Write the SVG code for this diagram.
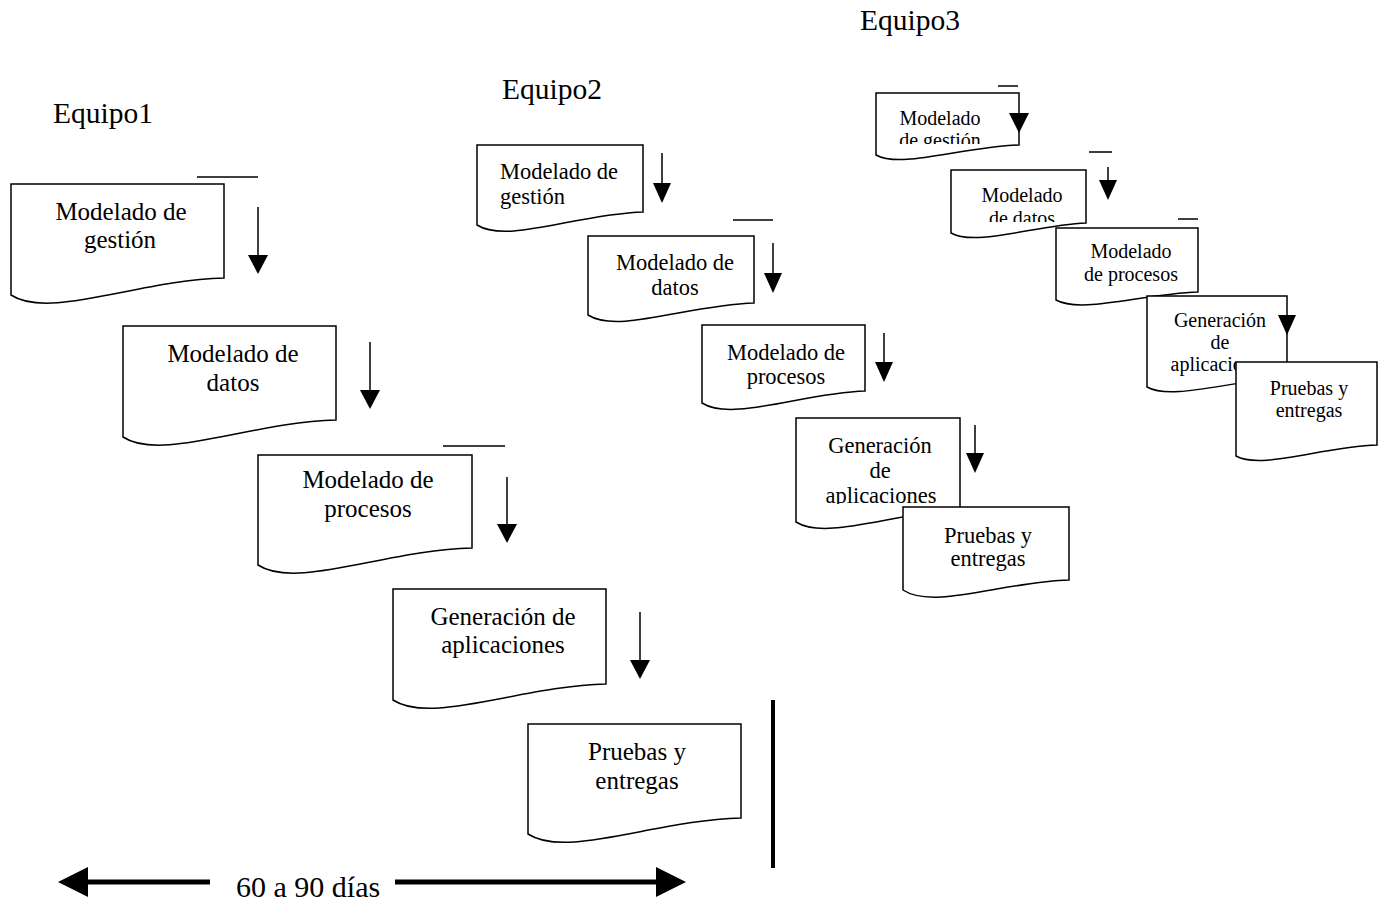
<svg xmlns="http://www.w3.org/2000/svg" width="1387" height="905" viewBox="0 0 1387 905">
<style>
.box{fill:#fff;stroke:#000;stroke-width:1.5}
text{font-family:"Liberation Serif","Times New Roman",serif;fill:#000}
.t1{font-size:25px;text-anchor:middle}
.t2{font-size:22.5px;text-anchor:middle}
.t3{font-size:20px;text-anchor:middle}
.lbl{font-size:29.5px}
.ln{stroke:#000;stroke-width:1.5;fill:none}
.hd{fill:#000}
.thick{stroke:#000;stroke-width:5;fill:none}
</style>
<defs>
<clipPath id="c_e2b4"><rect x="790" y="410" width="180" height="94"/></clipPath>
<clipPath id="c_e3b1"><rect x="870" y="90" width="150" height="54"/></clipPath>
<clipPath id="c_e3b2"><rect x="945" y="165" width="145" height="57"/></clipPath>
<clipPath id="c_e3b4"><rect x="1140" y="290" width="96" height="90"/></clipPath>
</defs>
<rect width="1387" height="905" fill="#fff"/>
<g id="labels">
<text class="lbl" x="53" y="123">Equipo1</text>
<text class="lbl" x="502" y="99">Equipo2</text>
<text class="lbl" x="860" y="30">Equipo3</text>
</g>
<g id="e1-gestion"><path class="box" d="M11,184 H224 V278 C139,280 49,320 11,295 Z"/><text class="t1" x="121" y="220">Modelado de</text><text class="t1" x="120" y="248">gestión</text></g>
<g id="e1-datos"><path class="box" d="M123,326 H336 V420 C251,422 161,462 123,437 Z"/><text class="t1" x="233" y="362">Modelado de</text><text class="t1" x="233" y="391">datos</text></g>
<g id="e1-procesos"><path class="box" d="M258,455 H472 V548 C386,550 296,590 258,565 Z"/><text class="t1" x="368" y="488">Modelado de</text><text class="t1" x="368" y="517">procesos</text></g>
<g id="e1-generacion"><path class="box" d="M393,589 H606 V684 C521,686 431,725 393,700 Z"/><text class="t1" x="503" y="625">Generación de</text><text class="t1" x="503" y="653">aplicaciones</text></g>
<g id="e1-pruebas"><path class="box" d="M528,724 H741 V818 C656,820 566,859 528,834 Z"/><text class="t1" x="637" y="760">Pruebas y</text><text class="t1" x="637" y="789">entregas</text></g>
<g id="e2-gestion"><path class="box" d="M477,145 H643 V212 C577,214 507,244 477,225 Z"/><text class="t2" x="500" y="179" style="text-anchor:start">Modelado de</text><text class="t2" x="500" y="204" style="text-anchor:start">gestión</text></g>
<g id="e2-datos"><path class="box" d="M588,236 H754 V303 C688,305 618,334 588,315 Z"/><text class="t2" x="675" y="270">Modelado de</text><text class="t2" x="675" y="295">datos</text></g>
<g id="e2-procesos"><path class="box" d="M702,325 H865 V391 C802,393 732,422 702,403 Z"/><text class="t2" x="786" y="360">Modelado de</text><text class="t2" x="786" y="384">procesos</text></g>
<g id="e2-generacion"><path class="box" d="M796,418 H960 V510 C896,512 826,541 796,522 Z"/><g clip-path="url(#c_e2b4)"><text class="t2" x="880" y="453">Generación</text><text class="t2" x="880" y="478">de</text><text class="t2" x="881" y="503">aplicaciones</text></g></g>
<g id="e2-pruebas"><path class="box" d="M903,507 H1069 V580 C1003,582 933,610 903,590 Z"/><text class="t2" x="988" y="543">Pruebas y</text><text class="t2" x="988" y="566">entregas</text></g>
<g id="e3-gestion"><path class="box" d="M876,93 H1019 V145 C961,147 901,169 876,155 Z"/><g clip-path="url(#c_e3b1)"><text class="t3" x="940" y="125">Modelado</text><text class="t3" x="940" y="147">de gestión</text></g></g>
<g id="e3-datos"><path class="box" d="M951,170 H1086 V223 C1036,225 976,247 951,233 Z"/><g clip-path="url(#c_e3b2)"><text class="t3" x="1022" y="202">Modelado</text><text class="t3" x="1022" y="225">de datos</text></g></g>
<g id="e3-procesos"><path class="box" d="M1056,228 H1198 V292 C1141,294 1081,314 1056,300 Z"/><text class="t3" x="1131" y="258">Modelado</text><text class="t3" x="1131" y="281">de procesos</text></g>
<g id="e3-generacion"><path class="box" d="M1147,296 H1287 V378 C1232,380 1172,401 1147,387 Z"/><text class="t3" x="1220" y="327">Generación</text><text class="t3" x="1220" y="349">de</text><text class="t3" x="1220" y="371" clip-path="url(#c_e3b4)">aplicaciones</text></g>
<g id="e3-pruebas"><path class="box" d="M1236,362 H1377 V445 C1321,447 1261,470 1236,456 Z"/><text class="t3" x="1309" y="395">Pruebas y</text><text class="t3" x="1309" y="417">entregas</text></g>
<g id="connectors">
<path class="ln" d="M197,177 H258 M443,446 H505 M733,220 H773 M998,86 H1018 M1089,152 H1112 M1178,219 H1198"/>
<path class="ln" d="M258,207 V256 M370,342 V391 M507,477 V525 M640,612 V661"/>
<polygon class="hd" points="248,255 268,255 258,274"/>
<polygon class="hd" points="360,390 380,390 370,409"/>
<polygon class="hd" points="497,524 517,524 507,543"/>
<polygon class="hd" points="630,660 650,660 640,679"/>
<path class="ln" d="M662,153 V184 M773,243 V274 M884,333 V363 M975,425 V454 M1108,167 V181"/>
<polygon class="hd" points="653,183 671,183 662,203"/>
<polygon class="hd" points="764,273 782,273 773,293"/>
<polygon class="hd" points="875,362 893,362 884,382"/>
<polygon class="hd" points="966,453 984,453 975,473"/>
<polygon class="hd" points="1009,113 1029,113 1019,133"/>
<polygon class="hd" points="1099,180 1117,180 1108,200"/>
<polygon class="hd" points="1278,315 1296,315 1287,335"/>
<line x1="773" y1="700" x2="773" y2="868" stroke="#000" stroke-width="4"/>
<path class="thick" d="M86,882 H210 M395,882 H658"/>
<polygon class="hd" points="58,882 88,867 88,897"/>
<polygon class="hd" points="656,867 686,882 656,897"/>
</g>
<g id="duration"><text x="236" y="897" style="font-size:30px">60 a 90 días</text></g>
</svg>
